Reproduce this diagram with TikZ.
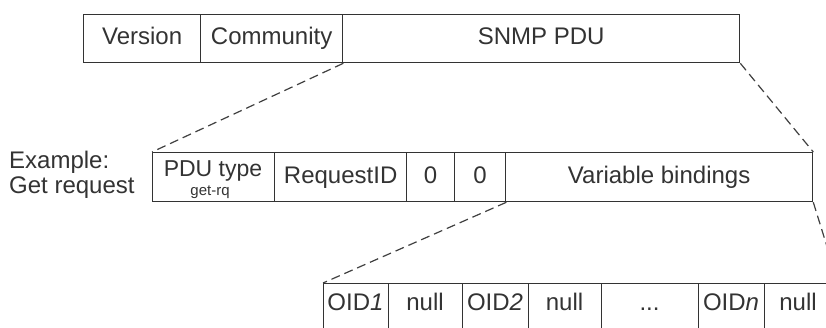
\documentclass[tikz,border=0pt]{standalone}
\usepackage{fontspec}
\setmainfont{Liberation Sans}
\begin{document}
\begin{tikzpicture}[x=1pt,y=-1pt,
  cell/.style={draw=black!80, line width=1.3pt, rectangle, inner sep=0pt, anchor=north west,
    font=\fontsize{24}{27}\selectfont, text=black!80, text height=17pt, text depth=5pt},
  zoomline/.style={draw=black!75, line width=1.2pt, dash pattern=on 9pt off 5pt},
  lbl/.style={font=\fontsize{24}{26}\selectfont, text=black!80, inner sep=0pt, text height=17pt, text depth=5pt}]
\useasboundingbox (0,0) rectangle (826,327);
\clip (0,0) rectangle (826,327);
\fill[white] (0,0) rectangle (826,327);
% top row
\node[cell, minimum width=117, minimum height=48] (ver) at (83,14) {Version};
\node[cell, minimum width=142, minimum height=48] (comm) at (200,14) {Community};
\node[cell, minimum width=397, minimum height=48] (snmp) at (342,14) {SNMP PDU};
% middle row
\node[font=\fontsize{24}{25}\selectfont, text=black!80, inner sep=0pt, anchor=north west, align=left] (ex) at (9,151) {Example:\\Get request};
\node[cell, minimum width=122, minimum height=49] (ptype) at (152,152) {};
\node[lbl, font=\fontsize{23}{26}\selectfont] (ptxt) at (213,170) {PDU type};
\node[lbl, font=\fontsize{15}{17}\selectfont, text height=11pt, text depth=4pt] (gtxt) at (210,192) {get-rq};
\node[cell, minimum width=132, minimum height=49] (rid) at (274,152) {RequestID};
\node[cell, minimum width=48, minimum height=49] (za) at (406,152) {0};
\node[cell, minimum width=51, minimum height=49] (zb) at (454,152) {0};
\node[cell, minimum width=307, minimum height=49] (varb) at (505,152) {Variable bindings};
% bottom row
\node[cell, minimum width=65, minimum height=49] (oa) at (323,283) {};
\node[lbl] (oat) at (355.5,304) {OID\textit{1}};
\node[cell, minimum width=74, minimum height=49] (na) at (388,283) {};
\node[lbl] (nat) at (425,304) {null};
\node[cell, minimum width=66, minimum height=49] (ob) at (462,283) {};
\node[lbl] (obt) at (495,304) {OID\textit{2}};
\node[cell, minimum width=73, minimum height=49] (nb) at (528,283) {};
\node[lbl] (nbt) at (564.5,304) {null};
\node[cell, minimum width=97, minimum height=49] (dots) at (601,283) {};
\node[lbl] (dt) at (649.5,304) {...};
\node[cell, minimum width=66, minimum height=49] (on) at (698,283) {};
\node[lbl] (ont) at (731,304) {OID\textit{n}};
\node[cell, minimum width=73, minimum height=49] (nn) at (764,283) {};
\node[lbl] (nnt) at (798,304) {null};
% zoom lines
\draw[zoomline] (comm.south east) -- (ptype.north west);
\draw[zoomline] (snmp.south east) -- (varb.north east);
\draw[zoomline] (zb.south east) -- (oa.north west);
\draw[zoomline] (varb.south east) -- (nn.north east);
\end{tikzpicture}
\end{document}
